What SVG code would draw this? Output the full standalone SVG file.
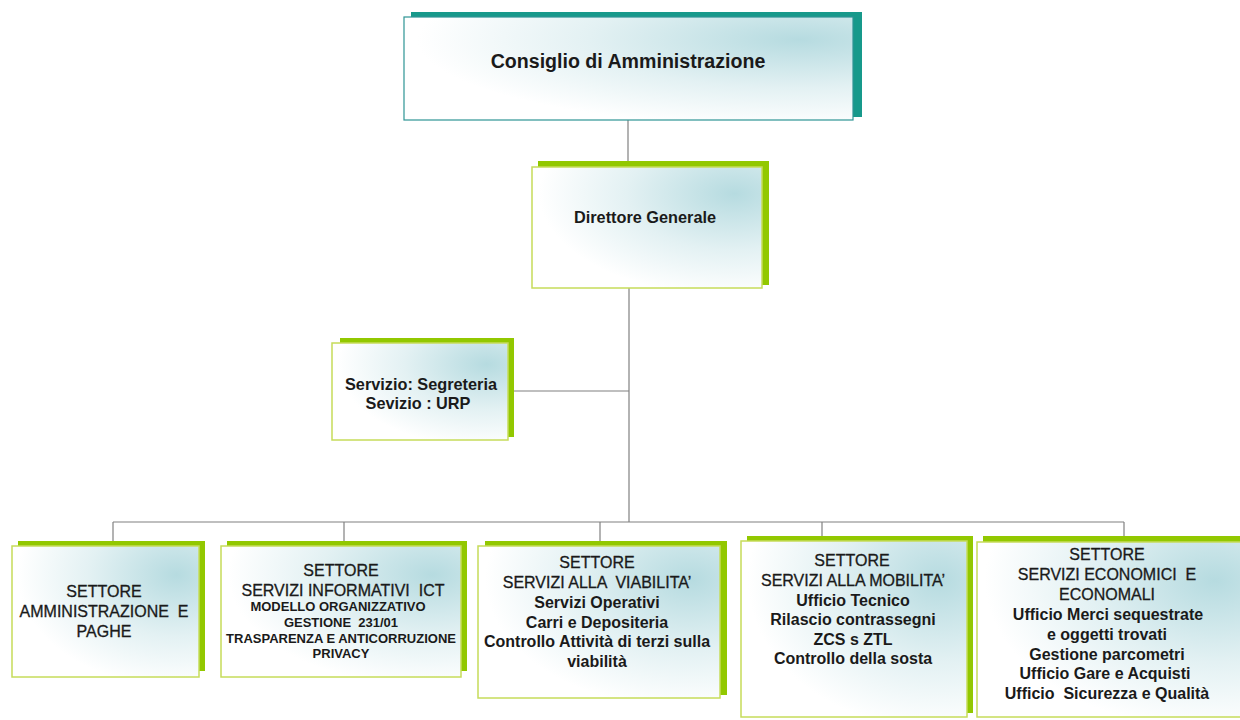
<svg xmlns="http://www.w3.org/2000/svg" width="1240" height="720" viewBox="0 0 1240 720">
<defs>
<radialGradient id="fill" cx="0.88" cy="0.22" r="0.85" fx="0.88" fy="0.22">
<stop offset="0" stop-color="#b6dbe0"/>
<stop offset="0.55" stop-color="#e3f1f3"/>
<stop offset="1" stop-color="#ffffff"/>
</radialGradient>
</defs>
<style>
.bg{fill:#ffffff}
.sh-t{fill:#17998b}
.sh-g{fill:#92c800}
.fr-t{fill:url(#fill);stroke:#2e9494;stroke-width:1.2}
.fr-g{fill:url(#fill);stroke:#c6dc5a;stroke-width:1.5}
.conn line{stroke:#808080;stroke-width:1.2}
text{font-family:"Liberation Sans",Arial,sans-serif;fill:#1a1a1a;text-anchor:middle;white-space:pre}
.b{font-weight:bold}
.cap{font-size:16px;stroke:#1a1a1a;stroke-width:0.3}
.sub{font-size:16px;font-weight:bold}
.sm{font-size:13px;font-weight:bold}
</style>
<rect class="bg" x="0" y="0" width="1240" height="720"/>

<g id="connectors" class="conn">
<line x1="628" y1="120" x2="628" y2="161"/>
<line x1="629" y1="288" x2="629" y2="522"/>
<line x1="508" y1="391" x2="629" y2="391"/>
<line x1="113" y1="522" x2="1124" y2="522"/>
<line x1="113" y1="522" x2="113" y2="541"/>
<line x1="344" y1="522" x2="344" y2="541"/>
<line x1="600" y1="522" x2="600" y2="541"/>
<line x1="822" y1="522" x2="822" y2="536"/>
<line x1="1124" y1="522" x2="1124" y2="536"/>
</g>

<g id="consiglio">
<rect class="sh-t" x="411" y="12" width="451" height="105"/>
<rect class="fr-t" x="404" y="17" width="449" height="103"/>
<text class="b" x="628" y="68" font-size="19.6">Consiglio di Amministrazione</text>
</g>

<g id="direttore">
<rect class="sh-g" x="538" y="161" width="231" height="124"/>
<rect class="fr-g" x="532" y="167" width="230" height="121"/>
<text class="b" x="645" y="223" font-size="16.3">Direttore Generale</text>
</g>

<g id="servizio">
<rect class="sh-g" x="340" y="338" width="174" height="99"/>
<rect class="fr-g" x="332" y="343" width="176" height="97"/>
<text class="b" x="421" y="390" font-size="16.3">Servizio: Segreteria</text>
<text class="b" x="418" y="409" font-size="16.3">Sevizio : URP</text>
</g>

<g id="settore-amministrazione">
<rect class="sh-g" x="18" y="541" width="187" height="130"/>
<rect class="fr-g" x="12" y="546" width="187" height="131"/>
<text class="cap" x="104" y="597">SETTORE</text>
<text class="cap" x="104" y="617" xml:space="preserve">AMMINISTRAZIONE  E</text>
<text class="cap" x="104" y="637">PAGHE</text>
</g>

<g id="settore-ict">
<rect class="sh-g" x="227" y="541" width="240" height="130"/>
<rect class="fr-g" x="221" y="546" width="240" height="131"/>
<text class="cap" x="341" y="576">SETTORE</text>
<text class="cap" x="343" y="596" xml:space="preserve">SERVIZI INFORMATIVI  ICT</text>
<text class="sm" x="338" y="611">MODELLO ORGANIZZATIVO</text>
<text class="sm" x="341" y="627" xml:space="preserve">GESTIONE  231/01</text>
<text class="sm" x="341" y="643">TRASPARENZA E ANTICORRUZIONE</text>
<text class="sm" x="341" y="658">PRIVACY</text>
</g>

<g id="settore-viabilita">
<rect class="sh-g" x="485" y="541" width="242" height="154"/>
<rect class="fr-g" x="478" y="546" width="242" height="152"/>
<text class="cap" x="597" y="568">SETTORE</text>
<text class="cap" x="597" y="588" xml:space="preserve">SERVIZI ALLA  VIABILITA’</text>
<text class="sub" x="597" y="608">Servizi Operativi</text>
<text class="sub" x="597" y="628">Carri e Depositeria</text>
<text class="sub" x="597" y="647">Controllo Attività di terzi sulla</text>
<text class="sub" x="597" y="667">viabilità</text>
</g>

<g id="settore-mobilita">
<rect class="sh-g" x="747" y="536" width="226" height="177"/>
<rect class="fr-g" x="741" y="541" width="226" height="176"/>
<text class="cap" x="852" y="566">SETTORE</text>
<text class="cap" x="853" y="586">SERVIZI ALLA MOBILITA’</text>
<text class="sub" x="853" y="606">Ufficio Tecnico</text>
<text class="sub" x="853" y="625">Rilascio contrassegni</text>
<text class="sub" x="853" y="645">ZCS s ZTL</text>
<text class="sub" x="853" y="664">Controllo della sosta</text>
</g>

<g id="settore-economici">
<rect class="sh-g" x="983" y="536" width="270" height="177"/>
<rect class="fr-g" x="977" y="542" width="270" height="175"/>
<text class="cap" x="1107" y="560">SETTORE</text>
<text class="cap" x="1107" y="580" xml:space="preserve">SERVIZI ECONOMICI  E</text>
<text class="cap" x="1107" y="600">ECONOMALI</text>
<text class="sub" x="1108" y="620">Ufficio Merci sequestrate</text>
<text class="sub" x="1107" y="640">e oggetti trovati</text>
<text class="sub" x="1107" y="660">Gestione parcometri</text>
<text class="sub" x="1105" y="679">Ufficio Gare e Acquisti</text>
<text class="sub" x="1107" y="699" xml:space="preserve">Ufficio  Sicurezza e Qualità</text>
</g>
</svg>
